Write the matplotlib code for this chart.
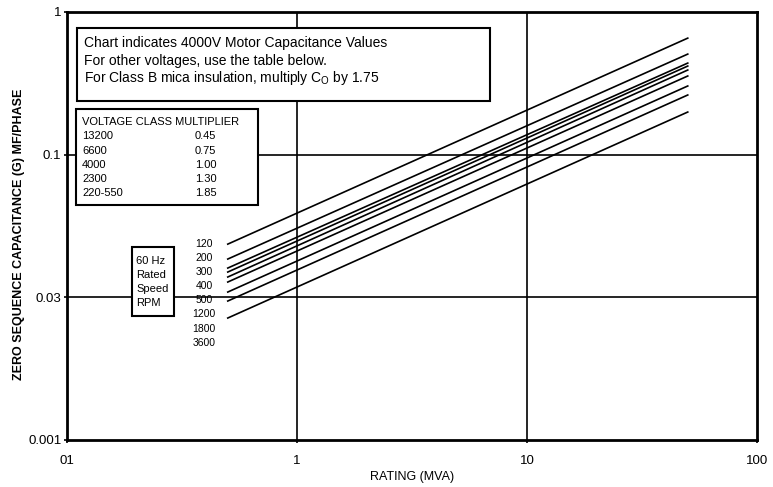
import matplotlib
matplotlib.use("Agg")
import matplotlib.pyplot as plt
from matplotlib.patches import Rectangle

plt.rcParams['font.family'] = ['Liberation Sans', 'DejaVu Sans']

# Rating range of the curves (MVA)
rating = [0.5, 50]

# Capacitance at 0.5 MVA and at 50 MVA, one pair per curve (top to bottom)
cap_start = [0.0236, 0.01855, 0.01604, 0.01504, 0.01388, 0.0128, 0.01089, 0.00942, 0.00716]
cap_end = [0.656, 0.507, 0.4385, 0.418, 0.392, 0.356, 0.303, 0.262, 0.199]

speed_labels = ['120', '200', '300', '400', '500', '1200', '1800', '3600']

x_ticks = [0.1, 1, 10, 100]
x_tick_labels = ['01', '1', '10', '100']
y_ticks = [0.001, 0.01, 0.1, 1]
y_tick_labels = ['0.001', '0.03', '0.1', '1']

table_header = 'VOLTAGE CLASS MULTIPLIER'
voltage_class = ['13200', '6600', '4000', '2300', '220-550']
multiplier = ['0.45', '0.75', '1.00', '1.30', '1.85']

note_lines = ['Chart indicates 4000V Motor Capacitance Values',
              'For other voltages, use the table below.',
              r'For Class B mica insulation, multiply C$_{\mathregular{O}}$ by 1.75']

fig = plt.figure(figsize=(7.73, 4.87), dpi=100)
ax = fig.add_axes([67 / 773, 1 - 440 / 487, 690 / 773, 428 / 487])
ax.set_xscale('log')
ax.set_yscale('log')
ax.set_xlim(0.1, 100)
ax.set_ylim(0.001, 1)

# grid lines at the inner decades
for gx in [1, 10]:
    ax.axvline(gx, color='black', lw=1.2, zorder=1)
for gy in [0.01, 0.1]:
    ax.axhline(gy, color='black', lw=1.2, zorder=1)

for s, e in zip(cap_start, cap_end):
    ax.plot(rating, [s, e], color='black', lw=1.2, zorder=2)

ax.set_xticks(x_ticks)
ax.set_xticklabels(x_tick_labels)
ax.set_yticks(y_ticks)
ax.set_yticklabels(y_tick_labels)
ax.minorticks_off()
ax.tick_params(axis='both', labelsize=9.5, length=2, width=1.2)
ax.tick_params(axis='x', pad=9)
ax.tick_params(axis='y', pad=2)
for sp in ax.spines.values():
    sp.set_linewidth(2)

fig.text(412 / 773, 1 - 477 / 487, 'RATING (MVA)', ha='center', va='center', fontsize=9)
fig.text(19.5 / 773, 1 - 234 / 487, 'ZERO SEQUENCE CAPACITANCE (G) MF/PHASE',
         ha='center', va='center', rotation=90, fontsize=9, fontweight='bold')


def fx(px):
    return (px - 67) / 690


def fy(py):
    return (440 - py) / 428


def box(x0, y0, x1, y1):
    ax.add_patch(Rectangle((fx(x0), fy(y1)), fx(x1) - fx(x0), fy(y0) - fy(y1),
                           transform=ax.transAxes, facecolor='white',
                           edgecolor='black', lw=1.5, zorder=3))


# note box
box(77, 28, 490, 101)
for py, t in zip([43, 61, 78], note_lines):
    ax.text(fx(84), fy(py), t, transform=ax.transAxes, fontsize=10, va='center', zorder=4)

# voltage table
box(76, 109, 258, 205)
ax.text(fx(82), fy(122), table_header, transform=ax.transAxes, fontsize=8, va='center', zorder=4)
for py, v, m in zip([136, 151, 165, 179, 193], voltage_class, multiplier):
    ax.text(fx(82), fy(py), v, transform=ax.transAxes, fontsize=8, va='center', zorder=4)
    ax.text(fx(195), fy(py), m, transform=ax.transAxes, fontsize=8, va='center', zorder=4)

# rated speed box
box(132, 247, 174, 316)
for py, t in zip([261, 275, 289, 303], ['60 Hz', 'Rated', 'Speed', 'RPM']):
    ax.text(fx(136), fy(py), t, transform=ax.transAxes, fontsize=8, va='center', zorder=4)

for i, t in enumerate(speed_labels):
    ax.text(fx(204), fy(244 + 14.1 * i), t, transform=ax.transAxes, fontsize=7.5,
            ha='center', va='center', zorder=4)

fig.savefig('out.png', dpi=100)
